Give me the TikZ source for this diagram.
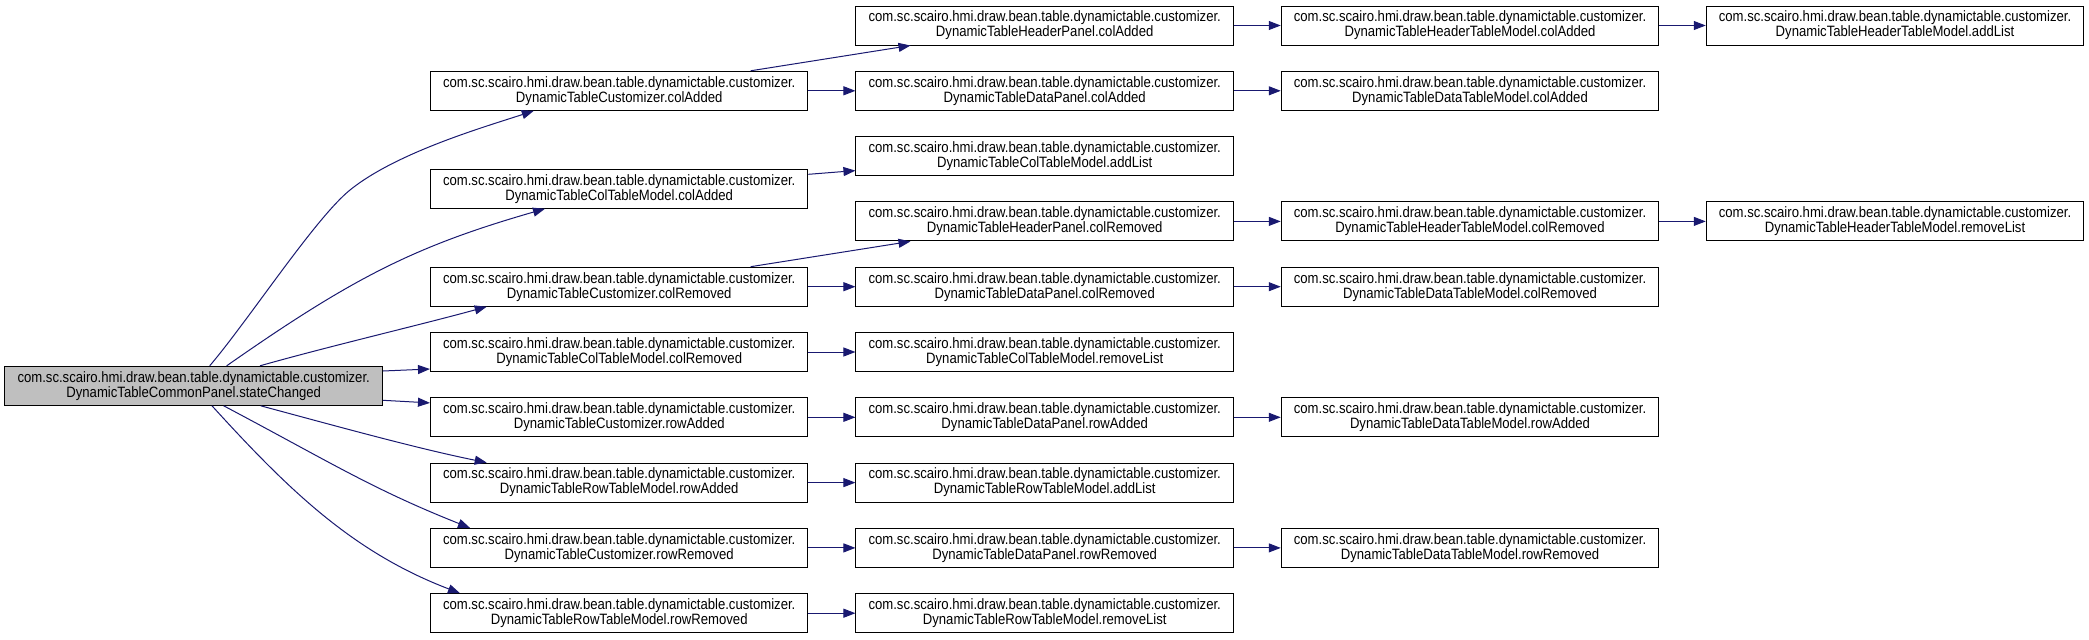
\documentclass[tikz,border=0pt]{standalone}
\usepackage{fontspec}
\setmainfont{Liberation Sans}
\newfontfamily\nodefont[FakeStretch=0.875]{Liberation Sans}
\usetikzlibrary{arrows.meta}
\definecolor{edgec}{HTML}{191970}
\definecolor{hilite}{HTML}{BFBFBF}
\newcommand\pkgpre{com.sc.scairo.hmi.draw.bean.table.dynamictable.customizer.}
\tikzset{
  fnbox/.style={draw=black, line width=1pt, fill=white, rectangle, minimum width=377.5pt,
    minimum height=39pt, inner sep=0pt, align=center, font=\nodefont\fontsize{15}{15}\selectfont},
  curbox/.style={fnbox, fill=hilite},
  edge/.style={draw=edgec, line width=1pt, -{Triangle[length=12pt,width=9pt,fill=edgec]}}
}
\begin{document}
\begin{tikzpicture}[x=1pt,y=-1pt]
\useasboundingbox (0,0) rectangle (2089,640);
% column 1
\node[curbox] (sc) at (193.7,385.8) {\pkgpre\\DynamicTableCommonPanel.stateChanged};
% column 2
\node[fnbox] (cca)  at (619.2,90.8)  {\pkgpre\\DynamicTableCustomizer.colAdded};
\node[fnbox] (ctca) at (619.2,188.75){\pkgpre\\DynamicTableColTableModel.colAdded};
\node[fnbox] (ccr)  at (619.2,286.7) {\pkgpre\\DynamicTableCustomizer.colRemoved};
\node[fnbox] (ctcr) at (619.2,352.0) {\pkgpre\\DynamicTableColTableModel.colRemoved};
\node[fnbox] (cra)  at (619.2,417.3) {\pkgpre\\DynamicTableCustomizer.rowAdded};
\node[fnbox] (rtra) at (619.2,482.6) {\pkgpre\\DynamicTableRowTableModel.rowAdded};
\node[fnbox] (crr)  at (619.2,547.9) {\pkgpre\\DynamicTableCustomizer.rowRemoved};
\node[fnbox] (rtrr) at (619.2,613.2) {\pkgpre\\DynamicTableRowTableModel.rowRemoved};
% column 3
\node[fnbox] (hpca) at (1044.7,25.5)  {\pkgpre\\DynamicTableHeaderPanel.colAdded};
\node[fnbox] (dpca) at (1044.7,90.8)  {\pkgpre\\DynamicTableDataPanel.colAdded};
\node[fnbox] (ctal) at (1044.7,156.1) {\pkgpre\\DynamicTableColTableModel.addList};
\node[fnbox] (hpcr) at (1044.7,221.4) {\pkgpre\\DynamicTableHeaderPanel.colRemoved};
\node[fnbox] (dpcr) at (1044.7,286.7) {\pkgpre\\DynamicTableDataPanel.colRemoved};
\node[fnbox] (ctrl) at (1044.7,352.0) {\pkgpre\\DynamicTableColTableModel.removeList};
\node[fnbox] (dpra) at (1044.7,417.3) {\pkgpre\\DynamicTableDataPanel.rowAdded};
\node[fnbox] (rtal) at (1044.7,482.6) {\pkgpre\\DynamicTableRowTableModel.addList};
\node[fnbox] (dprr) at (1044.7,547.9) {\pkgpre\\DynamicTableDataPanel.rowRemoved};
\node[fnbox] (rtrl) at (1044.7,613.2) {\pkgpre\\DynamicTableRowTableModel.removeList};
% column 4
\node[fnbox] (htca) at (1470,25.5)  {\pkgpre\\DynamicTableHeaderTableModel.colAdded};
\node[fnbox] (dtca) at (1470,90.8)  {\pkgpre\\DynamicTableDataTableModel.colAdded};
\node[fnbox] (htcr) at (1470,221.4) {\pkgpre\\DynamicTableHeaderTableModel.colRemoved};
\node[fnbox] (dtcr) at (1470,286.7) {\pkgpre\\DynamicTableDataTableModel.colRemoved};
\node[fnbox] (dtra) at (1470,417.3) {\pkgpre\\DynamicTableDataTableModel.rowAdded};
\node[fnbox] (dtrr) at (1470,547.9) {\pkgpre\\DynamicTableDataTableModel.rowRemoved};
% column 5
\node[fnbox] (htal) at (1895,25.5)  {\pkgpre\\DynamicTableHeaderTableModel.addList};
\node[fnbox] (htrl) at (1895,221.4) {\pkgpre\\DynamicTableHeaderTableModel.removeList};
% edges from stateChanged
\draw[edge] ([xshift=16pt]sc.north) .. controls (248.4,320.5) and (314.9,218.4) .. (350,190)
  .. controls (396.8,152.2) and (486,126.5) .. ([xshift=-85.4pt]cca.south);
\draw[edge] ([xshift=33pt]sc.north) .. controls (353.6,277) and (415.8,245.9) .. ([xshift=-74.2pt]ctca.south);
\draw[edge] ([xshift=66.3pt]sc.north) .. controls (330,346) and (420,325) .. ([xshift=-132.5pt]ccr.south);
\draw[edge] ([yshift=14.8pt]sc.east) -- ([yshift=-17pt]ctcr.west);
\draw[edge] ([yshift=-14.5pt]sc.east) -- ([yshift=14.4pt]cra.west);
\draw[edge] ([xshift=67pt]sc.south) .. controls (336,426) and (415,448) .. ([xshift=-132.5pt]rtra.north);
\draw[edge] ([xshift=30pt]sc.south) .. controls (329.5,461.8) and (372,489) .. ([xshift=-149.2pt]crr.north);
\draw[edge] ([xshift=18.3pt]sc.south) .. controls (289.5,491) and (353.3,552.5) .. ([xshift=-159.2pt]rtrr.north);
% column 2 -> 3
\draw[edge] ([xshift=131.4pt]cca.north) -- ([xshift=-134.2pt]hpca.south);
\draw[edge] (cca.east) -- (dpca.west);
\draw[edge] ([yshift=14.45pt]ctca.east) -- ([yshift=-14.5pt]ctal.west);
\draw[edge] ([xshift=131.4pt]ccr.north) -- ([xshift=-134.2pt]hpcr.south);
\draw[edge] (ccr.east) -- (dpcr.west);
\draw[edge] (ctcr.east) -- (ctrl.west);
\draw[edge] (cra.east) -- (dpra.west);
\draw[edge] (rtra.east) -- (rtal.west);
\draw[edge] (crr.east) -- (dprr.west);
\draw[edge] (rtrr.east) -- (rtrl.west);
% column 3 -> 4
\draw[edge] (hpca.east) -- (htca.west);
\draw[edge] (dpca.east) -- (dtca.west);
\draw[edge] (hpcr.east) -- (htcr.west);
\draw[edge] (dpcr.east) -- (dtcr.west);
\draw[edge] (dpra.east) -- (dtra.west);
\draw[edge] (dprr.east) -- (dtrr.west);
% column 4 -> 5
\draw[edge] (htca.east) -- (htal.west);
\draw[edge] (htcr.east) -- (htrl.west);
\end{tikzpicture}
\end{document}
